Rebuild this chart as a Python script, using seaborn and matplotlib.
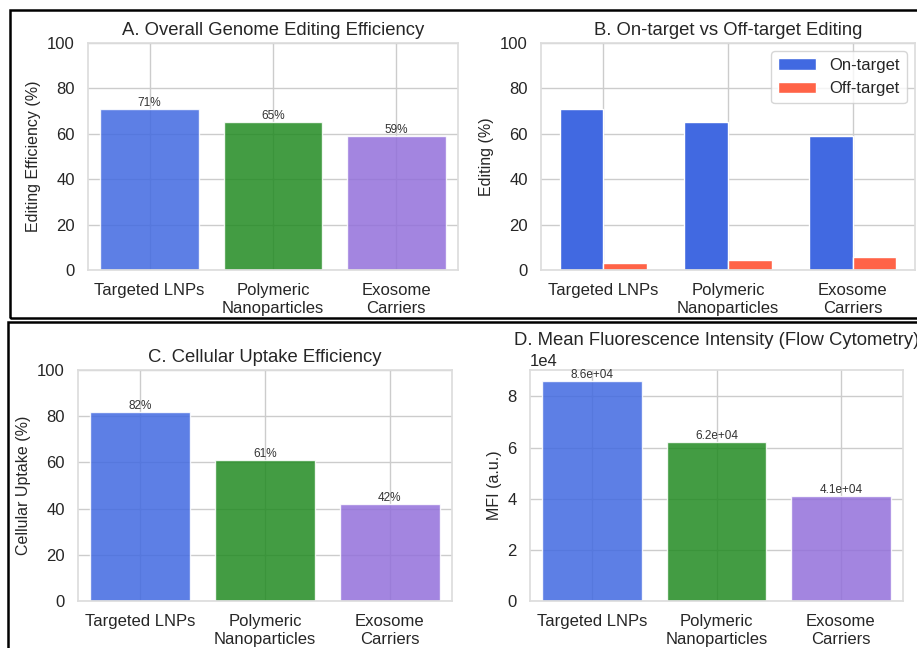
import numpy as np
import pandas as pd
import matplotlib
matplotlib.use('Agg')
import matplotlib.pyplot as plt
from matplotlib.patches import Rectangle
import seaborn as sns

sns.set_theme(style="whitegrid")
plt.rcParams['font.family'] = ['Liberation Sans', 'DejaVu Sans']

systems = ['Targeted LNPs', 'Polymeric\nNanoparticles', 'Exosome\nCarriers']
colors = ['royalblue', 'forestgreen', 'mediumpurple']
editing_eff = [71, 65, 59]
on_target = [71, 65, 59]
off_target = [3.1, 4.5, 5.6]
uptake = [82, 61, 42]
mfi = [86000, 62000, 41000]

fig = plt.figure(figsize=(9.17, 6.48), dpi=100)
W, H = 917, 648


def box(l, t, r, b):
    return [l / W, 1 - b / H, (r - l) / W, (b - t) / H]


axA = fig.add_axes(box(88, 43, 458, 270))
axB = fig.add_axes(box(541, 43, 915, 270))
axC = fig.add_axes(box(78, 370, 452, 601))
axD = fig.add_axes(box(530, 370, 903, 601))

TITLE = 13.3
LABEL = 11.5
TICK = 12


def simple_bars(ax, values, title, ylabel, fmt):
    df = pd.DataFrame({'system': systems, 'value': values})
    sns.barplot(data=df, x='system', y='value', hue='system', palette=colors,
                saturation=1, alpha=0.85, legend=False, ax=ax)
    for p, v in zip(ax.patches, values):
        ax.text(p.get_x() + p.get_width() / 2, p.get_height(), fmt(v),
                ha='center', va='bottom', fontsize=8.5, color='#333333')
    ax.set_title(title, fontsize=TITLE)
    ax.set_xlabel('')
    ax.set_ylabel(ylabel, fontsize=LABEL)
    ax.tick_params(labelsize=TICK)


simple_bars(axA, editing_eff, 'A. Overall Genome Editing Efficiency',
            'Editing Efficiency (%)', lambda v: f'{v:.0f}%')
axA.set_ylim(0, 100)

long_df = pd.DataFrame({
    'system': systems * 2,
    'type': ['On-target'] * 3 + ['Off-target'] * 3,
    'value': on_target + off_target,
})
sns.barplot(data=long_df, x='system', y='value', hue='type',
            palette=['royalblue', 'tomato'], saturation=1, width=0.7, ax=axB)
axB.set_ylim(0, 100)
axB.set_title('B. On-target vs Off-target Editing', fontsize=TITLE)
axB.set_xlabel('')
axB.set_ylabel('Editing (%)', fontsize=LABEL)
axB.tick_params(labelsize=TICK)
axB.legend(title=None, loc='upper right', fontsize=12, handlelength=2.3)

simple_bars(axC, uptake, 'C. Cellular Uptake Efficiency',
            'Cellular Uptake (%)', lambda v: f'{v:.0f}%')
axC.set_ylim(0, 100)

simple_bars(axD, mfi, 'D. Mean Fluorescence Intensity (Flow Cytometry)',
            'MFI (a.u.)', lambda v: f'{v:.1e}')
axD.ticklabel_format(axis='y', style='sci', scilimits=(0, 0))
axD.yaxis.get_offset_text().set_fontsize(TICK)

for ax in [axA, axB, axC, axD]:
    ax.xaxis.grid(True)
    ax.set_axisbelow(True)
    for s in ax.spines.values():
        s.set_color('#dddddd')

# screenshot frames
fig.add_artist(Rectangle((10 / W, 1 - 318 / H), 1.0, 308 / H, transform=fig.transFigure,
                         fill=False, edgecolor='black', linewidth=1.8))
fig.add_artist(Rectangle((8 / W, -0.01), 1.0, (648 - 322) / H + 0.01, transform=fig.transFigure,
                         fill=False, edgecolor='black', linewidth=1.8))

fig.savefig('out.png', dpi=100)
